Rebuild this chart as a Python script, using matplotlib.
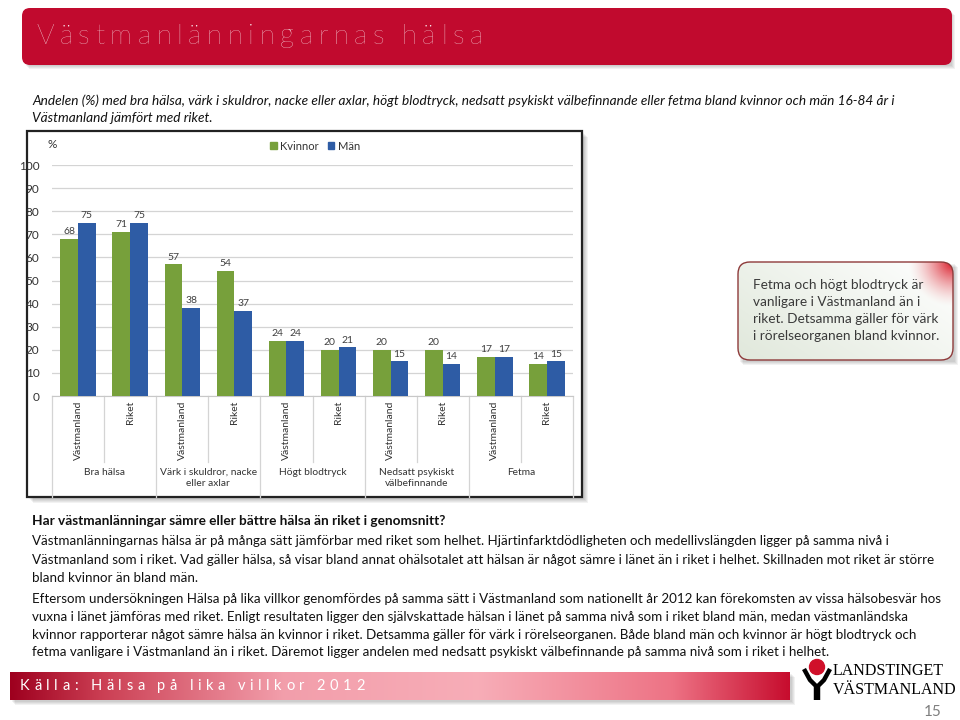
import numpy as np
import matplotlib
matplotlib.use('Agg')
import matplotlib.pyplot as plt
from matplotlib.patches import FancyBboxPatch, Rectangle, Circle, Patch
from matplotlib.transforms import blended_transform_factory

# data
categories = ['Västmanland', 'Riket'] * 5
groups = ['Bra hälsa', 'Värk i skuldror, nacke\neller axlar', 'Högt blodtryck',
          'Nedsatt psykiskt\nvälbefinnande', 'Fetma']
kvinnor = [68, 71, 57, 54, 24, 20, 20, 20, 17, 14]
man = [75, 75, 38, 37, 24, 21, 15, 14, 17, 15]
yticks = list(range(0, 101, 10))

title = 'Västmanlänningarnas hälsa'
subtitle = ['Andelen (%) med bra hälsa, värk i skuldror, nacke eller axlar, högt blodtryck, nedsatt psykiskt välbefinnande eller fetma bland kvinnor och män 16-84 år i',
            'Västmanland jämfört med riket.']
callout = ['Fetma och högt blodtryck är', 'vanligare i Västmanland än i',
           'riket. Detsamma gäller för värk', 'i rörelseorganen bland kvinnor.']
question = 'Har västmanlänningar sämre eller bättre hälsa än riket i genomsnitt?'
body = ['Västmanlänningarnas hälsa är på många sätt jämförbar med riket som helhet. Hjärtinfarktdödligheten och medellivslängden ligger på samma nivå i',
        'Västmanland som i riket. Vad gäller hälsa, så visar bland annat ohälsotalet att hälsan är något sämre i länet än i riket i helhet. Skillnaden mot riket är större',
        'bland kvinnor än bland män.',
        'Eftersom undersökningen Hälsa på lika villkor genomfördes på samma sätt i Västmanland som nationellt år 2012 kan förekomsten av vissa hälsobesvär hos',
        'vuxna i länet jämföras med riket. Enligt resultaten ligger den självskattade hälsan i länet på samma nivå som i riket bland män, medan västmanländska',
        'kvinnor rapporterar något sämre hälsa än kvinnor i riket. Detsamma gäller för värk i rörelseorganen. Både bland män och kvinnor är högt blodtryck och',
        'fetma vanligare i Västmanland än i riket. Däremot ligger andelen med nedsatt psykiskt välbefinnande på samma nivå som i riket i helhet.']
body_y = [541, 560, 578, 599, 617, 635, 652]
source = 'Källa: Hälsa på lika villkor 2012'

plt.rcParams['font.family'] = ['Lato', 'DejaVu Sans']

GREEN = '#77A03B'
BLUE = '#2E5CA5'
RED = '#C10A2E'

fig = plt.figure(figsize=(9.6, 7.2), dpi=100)
bg = fig.add_axes([0, 0, 1, 1])
bg.set_xlim(0, 960)
bg.set_ylim(720, 0)
bg.axis('off')
renderer = fig.canvas.get_renderer()


def spaced(x, y, s, gap, **kw):
    for ch in s:
        t = bg.text(x, y, ch, va='center', ha='left', **kw)
        w = t.get_window_extent(renderer).width
        if ch == ' ':
            w = kw.get('fontsize', 10) * 0.3
        x += w + gap


def shadow(x, y, w, h, n=4):
    for i in range(n):
        bg.add_patch(Rectangle((x + 2 + i, y + 2 + i), w, h, color='black',
                               alpha=0.05, lw=0, zorder=0))


# header
shadow(24, 10, 926, 54)
bg.add_patch(FancyBboxPatch((22, 8), 930, 57, boxstyle='round,pad=0,rounding_size=8',
                            fc=RED, ec='none', zorder=1))
spaced(36, 36, title, 5.6, fontsize=20, color='white', fontweight='light', zorder=2)

# subtitle
for i, s in enumerate(subtitle):
    bg.text(32, 101 + 17 * i, s, fontsize=9.8, style='italic', va='center', color='#111111')

# chart frame
shadow(27, 131, 555, 366, 5)
bg.add_patch(Rectangle((27, 131), 555, 366, fc='white', ec='#222222', lw=1.6, zorder=1))

ax = fig.add_axes([52 / 960, 1 - 396 / 720, 521 / 960, 231 / 720])
ax.set_facecolor('none')
x = np.arange(len(categories))
w = 0.34
b1 = ax.bar(x - w / 2, kvinnor, w, color=GREEN, zorder=3)
b2 = ax.bar(x + w / 2, man, w, color=BLUE, zorder=3)
ax.bar_label(b1, padding=2, fontsize=7.5, color='#404040')
ax.bar_label(b2, padding=2, fontsize=7.5, color='#404040')
ax.set_xlim(-0.5, len(categories) - 0.5)
ax.set_ylim(0, 100)
ax.set_yticks(yticks)
ax.tick_params(axis='y', length=0, labelsize=8.5, labelcolor='#333333', pad=9)
ax.set_xticks([])
ax.grid(axis='y', color='#D4D4D4', lw=0.9, zorder=0)
for sp in ['top', 'right', 'left']:
    ax.spines[sp].set_visible(False)
ax.spines['bottom'].set_color('#C8C8C8')

tr = blended_transform_factory(ax.transData, bg.transData)
for i, c in enumerate(categories):
    ax.text(i, 401, c, rotation=90, ha='center', va='top', fontsize=7.5,
            color='#333333', transform=tr, clip_on=False)
for i in range(len(categories) + 1):
    bottom = 497 if i % 2 == 0 else 462
    ax.plot([i - 0.5, i - 0.5], [396, bottom], color='#D4D4D4', lw=0.9,
            transform=tr, clip_on=False)
for g, name in enumerate(groups):
    ax.text(2 * g + 0.5, 468, name, ha='center', va='top', fontsize=7.4,
            color='#333333', transform=tr, linespacing=1.35, clip_on=False)
bg.text(48, 145, '%', fontsize=8.5, color='#333333', va='center')
ax.legend(handles=[Patch(color=GREEN, label='Kvinnor'), Patch(color=BLUE, label='Män')],
          loc='center left', bbox_to_anchor=(260 / 960, 1 - 146 / 720),
          bbox_transform=fig.transFigure, frameon=False, ncol=2, fontsize=8,
          handlelength=0.6, handleheight=0.6, handletextpad=0.3, columnspacing=0.8,
          labelcolor='#333333')

# callout box
cx0, cy0, cw, ch = 738, 262, 215, 98
shadow(cx0, cy0, cw, ch, 4)
box = FancyBboxPatch((cx0, cy0), cw, ch, boxstyle='round,pad=0,rounding_size=12',
                     fc='none', ec='#8E3A3A', lw=1.0, zorder=3)
bg.add_patch(box)
gy, gx = np.mgrid[0:1:98j, 0:1:215j]
t = np.clip((gx * 0.6 + (1 - gy) * 0.4), 0, 1)
img = np.zeros((98, 215, 3))
base0 = np.array([0.88, 0.91, 0.86])
base1 = np.array([1.0, 1.0, 1.0])
for k in range(3):
    img[..., k] = base0[k] + (base1[k] - base0[k]) * t
d = np.sqrt(((1 - gx) * 215) ** 2 + (gy * 98) ** 2)
glow = np.clip(1 - d / 45, 0, 1) ** 1.5
red = np.array([0.85, 0.1, 0.15])
for k in range(3):
    img[..., k] = img[..., k] * (1 - glow) + red[k] * glow
im = bg.imshow(img, extent=(cx0, cx0 + cw, cy0 + ch, cy0), zorder=2, aspect='auto')
im.set_clip_path(box)
bg.set_xlim(0, 960)
bg.set_ylim(720, 0)
for i, s in enumerate(callout):
    bg.text(753, 285 + 17 * i, s, fontsize=9.8, color='#3a3a3a', va='center', zorder=4)

# body text
bg.text(32, 521, question, fontsize=9.8, fontweight='bold', va='center', color='#111111')
for yy, s in zip(body_y, body):
    bg.text(32, yy, s, fontsize=9.6, va='center', color='#111111')

# footer
shadow(10, 672, 780, 28, 4)
stops = [0, 0.12, 0.35, 0.6, 0.85, 1]
cols = np.array([[0.62, 0.0, 0.12], [0.80, 0.25, 0.33], [0.95, 0.62, 0.67],
                 [0.97, 0.68, 0.72], [0.93, 0.45, 0.52], [0.78, 0.05, 0.18]])
xs = np.linspace(0, 1, 400)
grad = np.stack([np.interp(xs, stops, cols[:, k]) for k in range(3)], axis=-1)[None, :, :]
bg.imshow(grad, extent=(10, 790, 700, 672), aspect='auto', zorder=1)
bg.set_xlim(0, 960)
bg.set_ylim(720, 0)
spaced(20, 686, source, 4.6, fontsize=10.5, color='white', zorder=2)

# logo
bg.add_patch(Circle((817, 667), 7.5, color='#D0102A', zorder=3))
bg.plot([804, 810, 814, 816, 816], [669, 680, 684, 686, 700], color='black', lw=3.2,
        solid_capstyle='butt', zorder=3)
bg.plot([830, 824, 820, 818, 818], [669, 680, 684, 686, 700], color='black', lw=3.2,
        solid_capstyle='butt', zorder=3)
bg.text(833, 671, 'LANDSTINGET', fontfamily='Liberation Serif', fontsize=11.5,
        va='center', color='black')
bg.text(833, 690, 'VÄSTMANLAND', fontfamily='Liberation Serif', fontsize=11.5,
        va='center', color='black')
bg.text(942, 712, '15', fontsize=11, color='#7f7f7f', va='center', ha='right')

fig.savefig('out.png', dpi=100)
